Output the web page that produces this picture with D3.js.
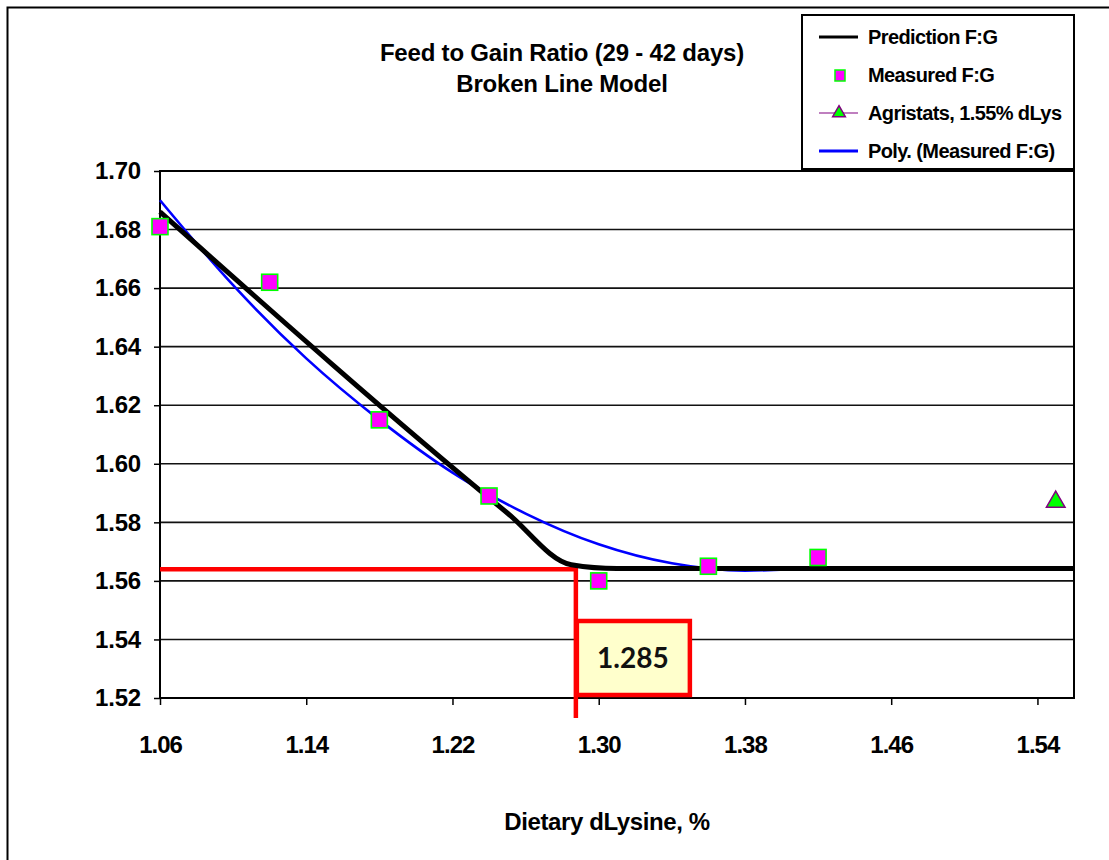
<!DOCTYPE html>
<html>
<head>
<meta charset="utf-8">
<script src="https://cdn.jsdelivr.net/npm/d3@7"></script>
<style>
  body { margin: 0; background: #fff; }
  svg { display: block; font-family: "Liberation Sans", Arial, sans-serif; }
</style>
</head>
<body>
<svg id="chart" width="1109" height="860"></svg>
<script>
// measured F:G at each dietary dLys level
var measuredX = [1.06, 1.12, 1.18, 1.24, 1.30, 1.36, 1.42];
var measuredY = [1.681, 1.662, 1.615, 1.589, 1.560, 1.565, 1.568];

// broken line prediction
var predX = [1.06, 1.25, 1.285, 1.31, 1.56];
var predY = [1.686, 1.5832, 1.5655, 1.5642, 1.5642];

// polynomial trendline
var polyX = [1.06, 1.10, 1.14, 1.18, 1.22, 1.26, 1.30, 1.34, 1.38, 1.42];
var polyY = [1.690, 1.661, 1.636, 1.615, 1.597, 1.583, 1.5725, 1.566, 1.5635, 1.5645];

var agriX = [1.55];
var agriY = [1.587];

// breakpoint: label value and where the red guide lines sit in the picture
var breakLabel = 1.285;
var breakLineX = 1.2875;
var breakY = 1.564;

var xTicks = [1.06, 1.14, 1.22, 1.30, 1.38, 1.46, 1.54];
var yTicks = [1.52, 1.54, 1.56, 1.58, 1.60, 1.62, 1.64, 1.66, 1.68, 1.70];

var legendItems = ["Prediction F:G", "Measured F:G", "Agristats, 1.55% dLys", "Poly. (Measured F:G)"];

const svg = d3.select("#chart");

const x = d3.scaleLinear().domain([1.06, 1.56]).range([160, 1074]);
const y = d3.scaleLinear().domain([1.52, 1.70]).range([698, 171]);

// outer chart frame
svg.append("rect")
    .attr("x", 7.5).attr("y", 7.5)
    .attr("width", 1200).attr("height", 1000)
    .attr("fill", "none").attr("stroke", "#000").attr("stroke-width", 2);

// gridlines
svg.append("g")
    .selectAll("line")
    .data(yTicks)
    .enter()
    .append("line")
    .attr("x1", x.range()[0]).attr("x2", x.range()[1])
    .attr("y1", d => y(d)).attr("y2", d => y(d))
    .attr("stroke", "#111").attr("stroke-width", 1.6);

// plot frame
svg.append("rect")
    .attr("x", x.range()[0]).attr("y", y.range()[1])
    .attr("width", x.range()[1] - x.range()[0])
    .attr("height", y.range()[0] - y.range()[1])
    .attr("fill", "none").attr("stroke", "#000").attr("stroke-width", 2);

// axes
const yAxis = svg.append("g")
    .attr("transform", `translate(${x.range()[0]},0)`)
    .call(d3.axisLeft(y).tickValues(yTicks).tickFormat(d3.format(".2f")).tickSize(6).tickPadding(13));
yAxis.select(".domain").remove();
yAxis.selectAll("line").attr("stroke", "#000").attr("stroke-width", 1.5);
yAxis.selectAll("text")
    .attr("font-size", 24).attr("font-weight", "bold")
    .attr("letter-spacing", -0.2).attr("fill", "#000")
    .attr("font-family", "Liberation Sans, Arial, sans-serif");

const xAxis = svg.append("g")
    .attr("transform", `translate(0,${y.range()[0]})`)
    .call(d3.axisBottom(x).tickValues(xTicks).tickFormat(d3.format(".2f")).tickSize(7).tickPadding(31));
xAxis.select(".domain").remove();
xAxis.selectAll("line").attr("stroke", "#000").attr("stroke-width", 1.5);
xAxis.selectAll("text")
    .attr("font-size", 24).attr("font-weight", "bold")
    .attr("letter-spacing", -1).attr("fill", "#000")
    .attr("font-family", "Liberation Sans Narrow, Liberation Sans, Arial, sans-serif");

// red breakpoint lines
svg.append("line")
    .attr("x1", x(1.06)).attr("x2", x(breakLineX) + 2)
    .attr("y1", y(breakY)).attr("y2", y(breakY))
    .attr("stroke", "#ff0000").attr("stroke-width", 4.5);
svg.append("line")
    .attr("x1", x(breakLineX)).attr("x2", x(breakLineX))
    .attr("y1", y(breakY) - 2).attr("y2", y.range()[0] + 20)
    .attr("stroke", "#ff0000").attr("stroke-width", 4.5);

// lines
const line = d3.line().x(d => x(d[0])).y(d => y(d[1])).curve(d3.curveMonotoneX);

svg.append("path")
    .datum(polyX.map((v, i) => [v, polyY[i]]))
    .attr("d", line)
    .attr("fill", "none").attr("stroke", "#0000ff").attr("stroke-width", 2.6);

svg.append("path")
    .datum(predX.map((v, i) => [v, predY[i]]))
    .attr("d", line)
    .attr("fill", "none").attr("stroke", "#000").attr("stroke-width", 5);

// measured markers
const sq = 16;
svg.append("g")
    .selectAll("rect")
    .data(measuredX.map((v, i) => [v, measuredY[i]]))
    .enter()
    .append("rect")
    .attr("x", d => x(d[0]) - sq / 2).attr("y", d => y(d[1]) - sq / 2)
    .attr("width", sq).attr("height", sq)
    .attr("fill", "#ff00ff").attr("stroke", "#00ff00").attr("stroke-width", 1.6);

// agristats triangle
const tri = d3.symbol().type(d3.symbolTriangle).size(150);
svg.append("g")
    .selectAll("path")
    .data(agriX.map((v, i) => [v, agriY[i]]))
    .enter()
    .append("path")
    .attr("transform", d => `translate(${x(d[0])},${y(d[1])})`)
    .attr("d", tri)
    .attr("fill", "#00ff00").attr("stroke", "#800080").attr("stroke-width", 1.5);

// breakpoint label box
const box = svg.append("g").attr("transform", `translate(${x(breakLineX)},${y(1.5463)})`);
box.append("rect")
    .attr("x", 1).attr("y", 0)
    .attr("width", 113).attr("height", 74)
    .attr("fill", "#ffffcc").attr("stroke", "#ff0000").attr("stroke-width", 4.5);
box.append("text")
    .attr("x", 57).attr("y", 47)
    .attr("text-anchor", "middle")
    .attr("font-family", "Lato, 'Open Sans', sans-serif")
    .attr("font-weight", "bold").attr("font-size", 28)
    .attr("fill", "#111")
    .text(d3.format(".3f")(breakLabel));

// title
const title = svg.append("text")
    .attr("text-anchor", "middle")
    .attr("font-weight", "bold").attr("font-size", 24)
    .attr("letter-spacing", -0.2);
title.append("tspan").attr("x", 562).attr("y", 61).text("Feed to Gain Ratio (29 - 42 days)");
title.append("tspan").attr("x", 562).attr("y", 92).text("Broken Line Model");

// x axis title
svg.append("text")
    .attr("x", 607).attr("y", 830)
    .attr("text-anchor", "middle")
    .attr("font-weight", "bold").attr("font-size", 24)
    .attr("letter-spacing", -0.4)
    .text("Dietary dLysine, %");

// legend
const legend = svg.append("g").attr("transform", "translate(802,15)");
legend.append("rect")
    .attr("width", 272).attr("height", 154)
    .attr("fill", "#fff").attr("stroke", "#000").attr("stroke-width", 2);

const rows = legend.selectAll("g.row")
    .data(legendItems)
    .enter()
    .append("g")
    .attr("class", "row")
    .attr("transform", (d, i) => `translate(0,${22 + i * 38})`);

rows.append("text")
    .attr("x", 66).attr("y", 7)
    .attr("font-weight", "bold").attr("font-size", 20)
    .attr("letter-spacing", -0.6)
    .text(d => d);

rows.filter((d, i) => i === 0).append("line")
    .attr("x1", 17).attr("x2", 56)
    .attr("stroke", "#000").attr("stroke-width", 3);
rows.filter((d, i) => i === 1).append("rect")
    .attr("x", 33).attr("y", -5).attr("width", 10).attr("height", 11)
    .attr("fill", "#ff00ff").attr("stroke", "#00ff00").attr("stroke-width", 1.5);
rows.filter((d, i) => i === 2).append("line")
    .attr("x1", 17).attr("x2", 56)
    .attr("stroke", "#800080").attr("stroke-width", 1.2);
rows.filter((d, i) => i === 2).append("path")
    .attr("transform", "translate(37,0)")
    .attr("d", d3.symbol().type(d3.symbolTriangle).size(70))
    .attr("fill", "#00ff00").attr("stroke", "#800080").attr("stroke-width", 1.5);
rows.filter((d, i) => i === 3).append("line")
    .attr("x1", 17).attr("x2", 56)
    .attr("stroke", "#0000ff").attr("stroke-width", 3);
</script>
</body>
</html>
